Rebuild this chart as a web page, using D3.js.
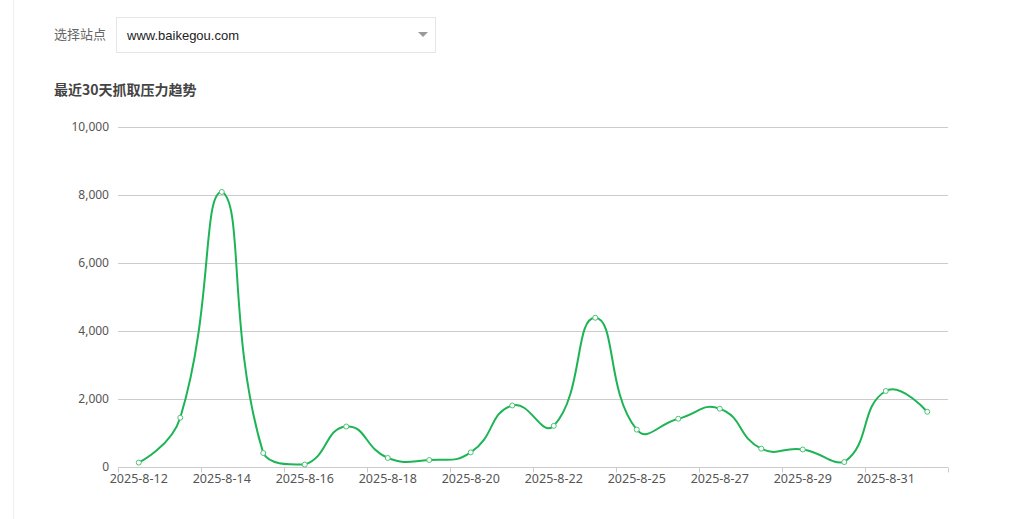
<!DOCTYPE html>
<html>
<head>
<meta charset="utf-8">
<script src="https://cdn.jsdelivr.net/npm/d3@7/dist/d3.min.js"></script>
<style>
  html, body { margin: 0; padding: 0; background: #fff; }
  body { width: 1029px; height: 519px; overflow: hidden; }
  svg { display: block; }
</style>
</head>
<body>
<svg id="chart" width="1029" height="519"></svg>
<script>
// ---- data ----
const categories = [
  "2025-8-12", "2025-8-13", "2025-8-14", "2025-8-15", "2025-8-16",
  "2025-8-17", "2025-8-18", "2025-8-19", "2025-8-20", "2025-8-21",
  "2025-8-22", "2025-8-24", "2025-8-25", "2025-8-26", "2025-8-27",
  "2025-8-28", "2025-8-29", "2025-8-30", "2025-8-31", "2025-9-1"
];
const pressureValues = [
  130, 1450, 8090, 410, 70,
  1190, 265, 205, 430, 1810,
  1210, 4390, 1100, 1420, 1715,
  540, 515, 145, 2235, 1625
];
const yTickValues = [0, 2000, 4000, 6000, 8000, 10000];
const siteLabel = "选择站点";
const siteValue = "www.baikegou.com";
const chartTitle = "最近30天抓取压力趋势";

// ---- layout ----
const svg = d3.select("#chart");
const plot = { left: 118, right: 948, top: 127, bottom: 467 };
const lineColor = "#1db455";
const labelFont = "'Noto Sans', 'Microsoft YaHei', sans-serif";
const cjkFont = "'Noto Sans CJK SC', 'Microsoft YaHei', sans-serif";

// left page border
svg.append("line")
  .attr("x1", 13.5).attr("x2", 13.5).attr("y1", 0).attr("y2", 519)
  .attr("stroke", "#eeeeee").attr("stroke-width", 1);

// site selector
svg.append("text")
  .attr("x", 54).attr("y", 34).attr("dy", "0.35em")
  .attr("font-family", cjkFont).attr("font-size", 13).attr("fill", "#666")
  .text(siteLabel);
svg.append("rect")
  .attr("x", 116.5).attr("y", 17.5).attr("width", 319).attr("height", 35)
  .attr("fill", "#fff").attr("stroke", "#e6e6e6");
svg.append("text")
  .attr("x", 127).attr("y", 35).attr("dy", "0.35em")
  .attr("font-family", "'Liberation Sans', Arial, sans-serif").attr("font-size", 13).attr("fill", "#222")
  .text(siteValue);
svg.append("path")
  .attr("d", "M418,32 L428,32 L423,37 Z")
  .attr("fill", "#999");

// title
svg.append("text")
  .attr("x", 54).attr("y", 90).attr("dy", "0.35em")
  .attr("font-family", cjkFont).attr("font-size", 14).attr("font-weight", "bold").attr("fill", "#444")
  .text(chartTitle);

// ---- scales ----
const x = d3.scaleBand().domain(categories).range([plot.left, plot.right]).padding(0);
const y = d3.scaleLinear().domain([0, 10000]).range([plot.bottom, plot.top]);
const cx = d => x(d) + x.bandwidth() / 2;

// ---- y axis + grid ----
const yAxis = d3.axisLeft(y)
  .tickValues(yTickValues)
  .tickFormat(d3.format(","))
  .tickSize(0)
  .tickPadding(9);
const yG = svg.append("g").attr("transform", `translate(${plot.left},0)`).call(yAxis);
yG.select(".domain").remove();
yG.selectAll("text")
  .attr("font-family", labelFont).attr("font-size", 12).attr("fill", "#555");

svg.append("g").selectAll("line")
  .data(yTickValues.filter(v => v !== 0))
  .join("line")
  .attr("x1", plot.left).attr("x2", plot.right)
  .attr("y1", d => Math.round(y(d)) + 0.5).attr("y2", d => Math.round(y(d)) + 0.5)
  .attr("stroke", "#cccccc").attr("stroke-width", 1);

// ---- x axis ----
const xAxis = d3.axisBottom(x)
  .tickValues(categories.filter((c, i) => i % 2 === 0))
  .tickSize(0)
  .tickPadding(7);
const xG = svg.append("g").attr("transform", `translate(0,${Math.round(y(0)) + 0.5})`).call(xAxis);
xG.select(".domain").remove();
xG.selectAll("text")
  .attr("font-family", labelFont).attr("font-size", 12.5).attr("fill", "#555");

svg.append("line")
  .attr("x1", plot.left).attr("x2", plot.right)
  .attr("y1", Math.round(y(0)) + 0.5).attr("y2", Math.round(y(0)) + 0.5)
  .attr("stroke", "#cccccc");
// boundary ticks every 2 categories (plus the end)
const tickXs = categories.filter((c, i) => i % 2 === 0).map(c => x(c)).concat([plot.right]);
svg.append("g").selectAll("line")
  .data(tickXs)
  .join("line")
  .attr("x1", d => Math.round(d) + 0.5).attr("x2", d => Math.round(d) + 0.5)
  .attr("y1", Math.round(y(0)) + 0.5).attr("y2", Math.round(y(0)) + 5.5)
  .attr("stroke", "#cccccc");

// ---- ECharts-like smooth curve ----
function echartsSmooth(context) {
  let pts = [];
  const smooth = 0.5;
  return {
    areaStart() {}, areaEnd() {},
    lineStart() { pts = []; },
    point(px, py) { pts.push([+px, +py]); },
    lineEnd() {
      const n = pts.length;
      if (!n) return;
      let minX = Infinity, minY = Infinity, maxX = -Infinity, maxY = -Infinity;
      pts.forEach(p => { minX = Math.min(minX, p[0]); maxX = Math.max(maxX, p[0]);
                         minY = Math.min(minY, p[1]); maxY = Math.max(maxY, p[1]); });
      const clamp = p => [Math.min(Math.max(p[0], minX), maxX), Math.min(Math.max(p[1], minY), maxY)];
      const cps = [];
      for (let i = 0; i < n; i++) {
        const p = pts[i];
        if (i === 0 || i === n - 1) { cps.push([p[0], p[1]]); continue; }
        const prev = pts[i - 1], next = pts[i + 1];
        const vx = (next[0] - prev[0]) * smooth, vy = (next[1] - prev[1]) * smooth;
        let d0 = Math.hypot(p[0] - prev[0], p[1] - prev[1]);
        let d1 = Math.hypot(p[0] - next[0], p[1] - next[1]);
        const sum = d0 + d1;
        if (sum) { d0 /= sum; d1 /= sum; }
        cps.push(clamp([p[0] - vx * d0, p[1] - vy * d0]));
        cps.push(clamp([p[0] + vx * d1, p[1] + vy * d1]));
      }
      context.moveTo(pts[0][0], pts[0][1]);
      for (let i = 0; i < n - 1; i++) {
        const c0 = cps[2 * i], c1 = cps[2 * i + 1], p = pts[i + 1];
        context.bezierCurveTo(c0[0], c0[1], c1[0], c1[1], p[0], p[1]);
      }
    }
  };
}

const data = categories.map((c, i) => ({ c, v: pressureValues[i] }));
const line = d3.line()
  .x(d => cx(d.c))
  .y(d => y(d.v))
  .curve(echartsSmooth);

svg.append("path")
  .datum(data)
  .attr("d", line)
  .attr("fill", "none")
  .attr("stroke", lineColor)
  .attr("stroke-width", 2)
  .attr("stroke-linejoin", "round");

svg.append("g").selectAll("circle")
  .data(data)
  .join("circle")
  .attr("cx", d => cx(d.c))
  .attr("cy", d => y(d.v))
  .attr("r", 2.5)
  .attr("fill", "#fff")
  .attr("stroke", "#4cc276")
  .attr("stroke-width", 1);
</script>
</body>
</html>
